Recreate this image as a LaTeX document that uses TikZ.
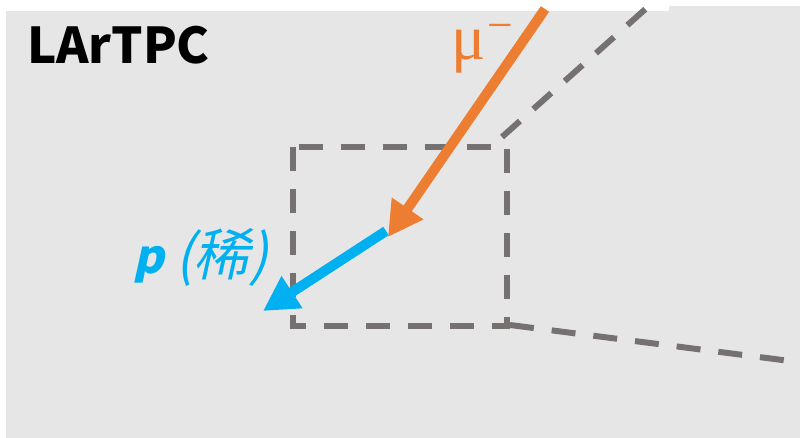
\documentclass[tikz,border=0pt]{standalone}
\usepackage{fontspec}
\usetikzlibrary{arrows.meta}
\setmainfont{Liberation Serif}
\newfontfamily\cjk{Noto Sans CJK JP}
\newfontfamily\cjkit[FakeSlant=0.22]{Noto Sans CJK JP}
\newfontfamily\mufont{Liberation Serif}
\definecolor{bggrey}{HTML}{E6E6E6}
\definecolor{dashgrey}{HTML}{767171}
\definecolor{muorange}{HTML}{ED7D31}
\definecolor{pblue}{HTML}{00B0F0}
\tikzset{
  dashline/.style={draw=dashgrey, line width=4.5pt, dash pattern=on 18pt off 13.5pt},
  trackarrow/.style={line width=7.5pt, -{Triangle[length=26pt,width=27pt]}},
  lbl/.style={inner sep=0pt, outer sep=0pt}
}
\begin{document}
\begin{tikzpicture}[x=0.75pt,y=-0.75pt]
\useasboundingbox (0,0) rectangle (800,438);
% background panels
\fill[bggrey] (6,11) rectangle (800,438);
\fill[bggrey] (669,6) rectangle (800,11);
% zoom box and projection lines
\coordinate (boxTL) at (293,147);
\coordinate (boxBR) at (507,326);
\coordinate (up1) at (502,137);
\coordinate (up2) at (650,5);
\coordinate (lo1) at (510,325);
\coordinate (lo2) at (790,361);
\draw[dashline] (boxTL) rectangle (boxBR);
\draw[dashline] (up1) -- (up2);
\draw[dashline] (lo1) -- (lo2);
% tracks
\coordinate (mustart) at (545,9);
\coordinate (muend) at (388,237);
\coordinate (pstart) at (386,231);
\coordinate (pend) at (263,311);
\draw[trackarrow, draw=muorange, fill=muorange] (mustart) -- (muend);
\draw[trackarrow, draw=pblue, fill=pblue] (pstart) -- (pend);
% labels
\node[lbl, anchor=base west, font={\cjk\bfseries\fontsize{37}{37}\selectfont}] (title) at (27,64) {LArTPC};
\node[lbl, anchor=base west, text=muorange, font={\mufont\fontsize{48}{48}\selectfont}] (mu) at (451,60) {μ};
\node[lbl, text=muorange, font={\mufont\fontsize{34}{34}\selectfont}] (minus) at (500,32) {−};
\node[lbl, anchor=base west, text=pblue, font={\cjkit\bfseries\fontsize{35}{35}\selectfont}] (plbl) at (133,274) {p};
\node[lbl, anchor=base west, text=pblue, font={\cjkit\fontsize{42}{42}\selectfont}] (rare) at (175,276) {(稀)};
\end{tikzpicture}
\end{document}
